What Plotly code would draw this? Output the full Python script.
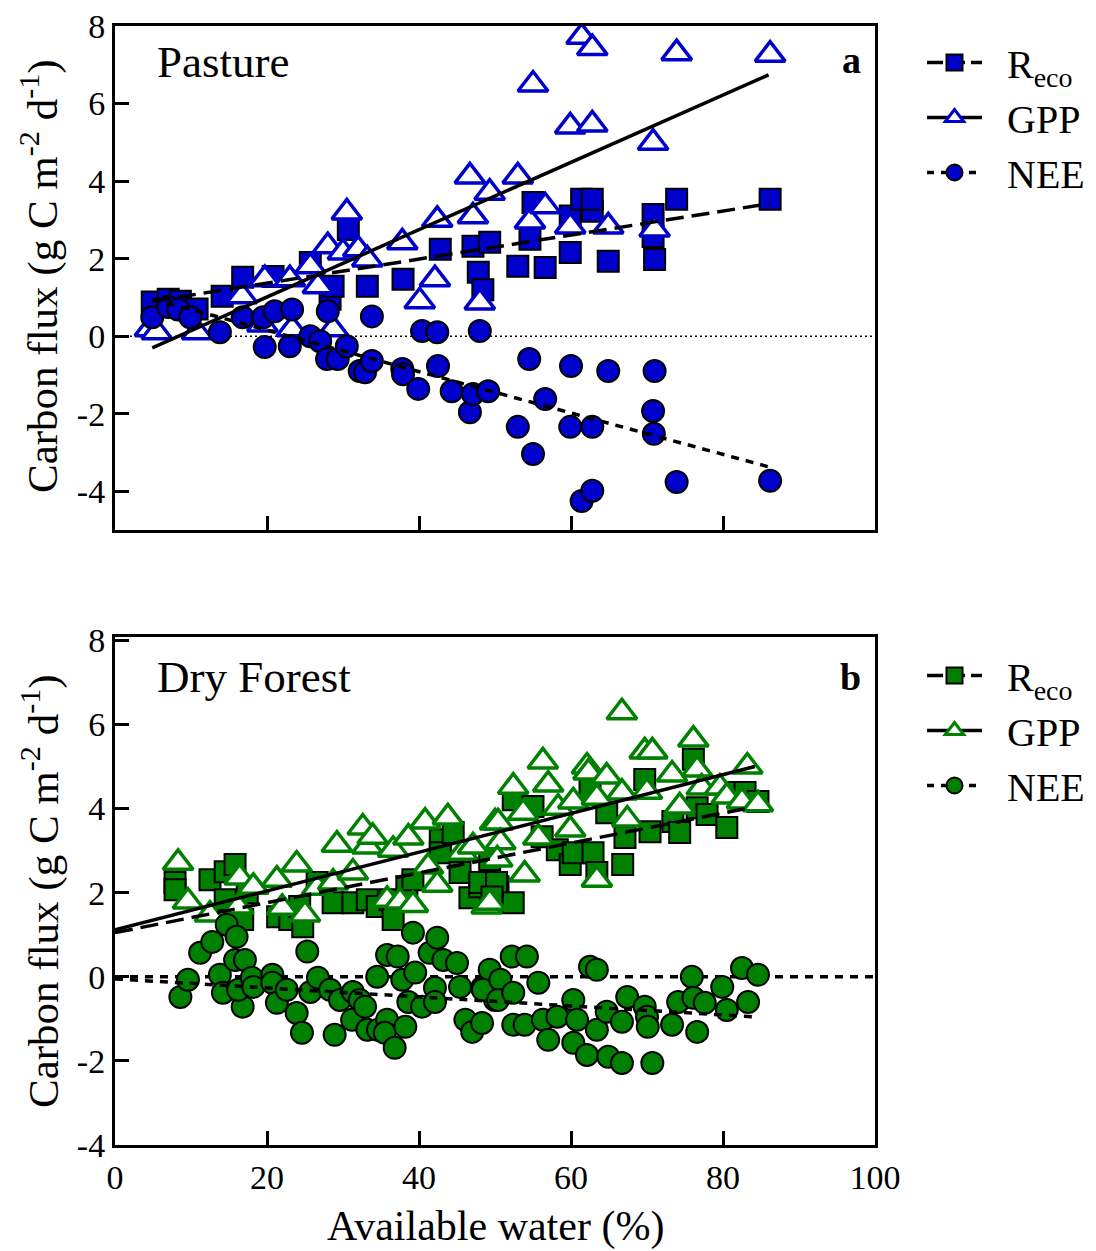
import plotly.graph_objects as go

# ---------------- Pasture (panel a) ----------------
pasture_reco_x = [4.9, 7.0, 8.6, 10.8, 14.1, 16.8, 20.8, 25.7, 28.3, 28.7, 30.7, 33.2, 37.9, 42.8,
                  47.1, 47.8, 48.4, 49.3, 53.0, 55.0, 56.6, 54.6, 59.9, 59.9, 61.4, 62.8, 62.8,
                  64.9, 70.8, 70.8, 71.0, 73.9, 86.2]
pasture_reco_y = [0.88, 0.95, 0.90, 0.70, 1.03, 1.52, 1.54, 1.90, 0.95, 1.29, 2.75, 1.29, 1.47, 2.24,
                  2.32, 1.65, 1.20, 2.42, 1.80, 3.45, 1.77, 2.50, 3.10, 2.16, 3.53, 3.22, 3.53,
                  1.93, 3.14, 2.57, 1.98, 3.53, 3.53]

pasture_gpp_x = [4.6, 5.5, 10.8, 16.7, 19.7, 19.4, 23.0, 23.3, 25.7, 26.7, 28.0, 28.7, 30.5, 30.0,
                 32.0, 33.2, 37.8, 40.1, 42.4, 42.1, 46.7, 47.1, 48.0, 49.3, 53.0, 55.0, 54.6,
                 56.6, 59.9, 59.9, 61.4, 62.8, 62.8, 64.9, 70.8, 71.0, 73.9, 86.2]
pasture_gpp_y = [0.18, 0.10, 0.10, 1.03, 1.47, 0.30, 1.47, 0.18, 1.80, 1.29, 2.32, 0.18, 3.19, 2.16,
                 2.24, 1.98, 2.42, 0.90, 3.00, 1.47, 4.12, 3.09, 0.87, 3.70, 4.12, 6.49, 2.96,
                 3.35, 5.41, 2.83, 7.72, 7.43, 5.46, 2.83, 4.99, 2.75, 7.30, 7.26]

pasture_nee_x = [4.9, 7.0, 8.3, 9.9, 13.8, 16.8, 19.5, 21.0, 23.3, 28.0, 33.8, 40.4, 42.4, 48.0,
                 19.7, 23.0, 25.7, 27.0, 27.9, 29.3, 30.5, 32.2, 32.9, 33.8, 37.8, 37.9, 39.9,
                 42.5, 44.3, 46.7, 47.1, 49.1, 54.5, 56.6, 53.0, 55.0, 60.0, 59.9, 62.8, 61.4,
                 62.8, 64.9, 71.0, 70.8, 70.9, 73.9, 86.2]
pasture_nee_y = [0.49, 0.75, 0.69, 0.49, 0.10, 0.49, 0.49, 0.64, 0.69, 0.64, 0.51, 0.13, 0.10, 0.13,
                 -0.28, -0.26, 0.00, -0.13, -0.59, -0.59, -0.26, -0.90, -0.93, -0.64, -0.85, -0.98, -1.36,
                 -0.77, -1.42, -1.96, -1.49, -1.42, -0.59, -1.62, -2.34, -3.04, -0.77, -2.34, -2.34, -4.25,
                 -3.99, -0.90, -0.90, -1.93, -2.52, -3.76, -3.73]

# regression lines (end points)
pasture_reco_fit_x = [4.9, 86.2]
pasture_reco_fit_y = [0.90, 3.42]
pasture_gpp_fit_x = [4.9, 86.0]
pasture_gpp_fit_y = [-0.30, 6.74]
pasture_nee_fit_x = [4.9, 86.0]
pasture_nee_fit_y = [0.96, -3.37]

# ---------------- Dry forest (panel b) ----------------
forest_reco_x = [7.9, 7.9, 12.5, 14.5, 15.8, 17.4, 16.8, 14.5, 21.4, 23.0, 24.7, 24.3, 26.6, 28.7,
                 31.3, 33.2, 34.5, 36.2, 36.6, 38.4, 39.2, 42.8, 42.8, 44.5, 45.4, 46.7, 48.0,
                 49.3, 50.4, 48.0, 50.2, 52.4, 52.4, 55.0, 56.2, 58.2, 59.9, 60.3, 62.9, 63.4,
                 64.7, 62.5, 66.8, 67.1, 69.7, 70.4, 73.4, 74.3, 76.1, 76.6, 77.9, 80.5, 81.3,
                 82.9, 84.6, 49.6]
forest_reco_y = [2.24, 2.07, 2.31, 2.50, 2.67, 2.00, 1.36, 1.83, 1.43, 1.36, 1.19, 1.67, 2.24, 1.76,
                 1.76, 1.83, 1.67, 1.83, 1.36, 2.14, 2.31, 3.26, 2.95, 3.43, 2.48, 1.88, 2.14,
                 2.79, 2.14, 2.24, 2.24, 1.76, 4.21, 4.05, 3.33, 3.02, 2.67, 2.95, 2.95, 2.48,
                 3.90, 4.45, 2.67, 3.31, 4.69, 3.45, 3.69, 3.43, 5.17, 4.02, 3.86, 3.55, 4.38,
                 4.38, 4.17, 1.90]

forest_gpp_x = [8.3, 9.6, 12.5, 16.4, 16.2, 18.2, 21.3, 22.0, 23.9, 25.0, 26.6, 28.7, 29.2, 31.3,
                32.6, 33.2, 33.9, 35.8, 36.6, 37.5, 38.6, 39.2, 40.8, 41.2, 42.4, 43.8, 45.7,
                47.1, 48.9, 50.0, 49.3, 50.4, 50.7, 50.3, 52.4, 53.7, 53.9, 55.7, 56.3, 57.0,
                58.3, 59.9, 60.3, 62.1, 62.3, 63.4, 63.4, 64.7, 66.7, 66.7, 67.4, 69.7, 70.7,
                70.0, 73.3, 74.3, 76.1, 76.6, 77.2, 79.6, 80.5, 82.5, 83.2, 84.6]
forest_gpp_y = [2.71, 1.79, 1.48, 2.36, 1.67, 2.14, 2.31, 1.64, 2.67, 1.48, 2.12, 2.24, 3.14, 2.48,
                3.55, 3.10, 3.33, 1.83, 3.02, 1.79, 3.31, 1.71, 3.69, 2.62, 2.19, 3.79, 2.95,
                3.10, 1.67, 3.67, 1.76, 3.67, 3.20, 2.79, 4.52, 3.90, 2.43, 3.31, 5.12, 4.57,
                4.02, 3.50, 4.17, 5.00, 4.86, 4.26, 2.31, 4.76, 6.29, 4.38, 3.74, 5.36, 5.36,
                4.40, 4.81, 4.05, 5.64, 4.93, 4.50, 4.50, 4.29, 4.17, 5.00, 4.10]

forest_nee_x = [8.6, 9.6, 11.2, 12.8, 13.8, 14.2, 14.7, 15.8, 16.0, 17.1, 16.8, 16.2, 18.0, 18.2,
                20.7, 20.7, 21.3, 22.6, 23.9, 24.6, 25.3, 25.7, 26.7, 28.3, 28.9, 29.6, 31.2,
                31.3, 32.2, 32.9, 33.2, 34.5, 34.6, 35.8, 35.5, 35.8, 36.8, 37.2, 37.8, 38.2,
                38.6, 39.2, 39.5, 40.4, 41.4, 42.1, 42.4, 43.2, 42.1, 45.0, 45.4, 46.1, 47.0,
                48.3, 48.3, 49.3, 50.0, 48.4, 50.7, 50.4, 52.2, 54.2, 52.4, 52.4, 53.9, 55.7,
                56.3, 57.0, 58.2, 60.3, 60.8, 60.3, 62.1, 62.5, 63.4, 63.4, 64.7, 64.9, 66.7,
                66.7, 67.4, 69.7, 70.0, 70.1, 70.7, 73.3, 74.1, 75.9, 76.1, 77.6, 76.6, 79.9,
                80.5, 82.5, 83.3, 84.6]
forest_nee_y = [-0.48, -0.07, 0.57, 0.83, 0.05, -0.38, 1.24, 0.40, 0.95, 0.40, -0.71, -0.31, -0.02, -0.24,
                0.05, -0.14, -0.62, -0.31, -0.86, -1.33, 0.60, -0.36, -0.02, -0.31, -1.38, -0.55, -1.02,
                -0.36, -0.55, -0.71, -1.26, 0.00, -1.26, -1.02, -1.33, 0.52, -1.69, 0.48, -0.07, -1.19,
                -0.60, 1.05, 0.10, -0.71, 0.57, -0.26, 0.93, 0.40, -0.60, 0.33, -0.24, -1.02, -1.31,
                -1.10, -0.26, 0.17, -0.55, -0.31, -0.07, -0.55, 0.48, 0.48, -0.38, -1.14, -1.14, -0.14,
                -1.02, -1.50, -0.95, -0.55, -1.02, -1.57, -1.86, 0.24, 0.17, -1.26, -0.83, -1.90, -1.07,
                -2.05, -0.48, -0.71, -0.95, -1.19, -2.05, -1.14, -0.60, 0.00, -0.50, -0.62, -1.31, -0.24,
                -0.79, 0.21, -0.60, 0.05]

forest_reco_fit_x = [0.0, 83.6]
forest_reco_fit_y = [1.05, 4.02]
forest_gpp_fit_x = [0.0, 84.2]
forest_gpp_fit_y = [1.12, 5.00]
forest_nee_fit_x = [0.0, 84.0]
forest_nee_fit_y = [-0.05, -0.95]

zero_x = [0, 100]
zero_y = [0, 0]

y_ticks = [-4, -2, 0, 2, 4, 6, 8]
y_ticktext = ["-4", "-2", "0", "2", "4", "6", "8"]
x_ticks = [0, 20, 40, 60, 80, 100]
x_ticktext = ["0", "20", "40", "60", "80", "100"]

# ---------------- styling ----------------
BLUE = "#0000CC"
GREEN = "#008000"
SERIF = "Liberation Serif"
W, H = 1096, 1251

DASH_RECO = "18px,8px"
DASH_NEE = "8px,7px"
GAP = "\u00a0\u00a0"

fig = go.Figure()


def add_panel(xa, ya, legend, color, reco, gpp, nee, fits, zero_style):
    # zero reference line
    fig.add_trace(go.Scatter(x=zero_x, y=zero_y, mode="lines", xaxis=xa, yaxis=ya,
                             line=dict(color="black", **zero_style), showlegend=False,
                             hoverinfo="skip"))
    fig.add_trace(go.Scatter(x=reco[0], y=reco[1], mode="markers", xaxis=xa, yaxis=ya,
                             marker=dict(symbol="square", size=21, color=color,
                                         line=dict(color="black", width=2)),
                             showlegend=False, name="Reco"))
    fig.add_trace(go.Scatter(x=gpp[0], y=gpp[1], mode="markers", xaxis=xa, yaxis=ya,
                             marker=dict(symbol="triangle-up", size=26, color="white",
                                         line=dict(color=color, width=3.5)),
                             showlegend=False, name="GPP"))
    fig.add_trace(go.Scatter(x=nee[0], y=nee[1], mode="markers", xaxis=xa, yaxis=ya,
                             marker=dict(symbol="circle", size=22, color=color,
                                         line=dict(color="black", width=2)),
                             showlegend=False, name="NEE"))
    (rfx, rfy), (gfx, gfy), (nfx, nfy) = fits
    fig.add_trace(go.Scatter(x=rfx, y=rfy, mode="lines", xaxis=xa, yaxis=ya,
                             line=dict(color="black", width=3.5, dash=DASH_RECO),
                             showlegend=False))
    fig.add_trace(go.Scatter(x=gfx, y=gfy, mode="lines", xaxis=xa, yaxis=ya,
                             line=dict(color="black", width=3.5), showlegend=False))
    fig.add_trace(go.Scatter(x=nfx, y=nfy, mode="lines", xaxis=xa, yaxis=ya,
                             line=dict(color="black", width=3.5, dash=DASH_NEE),
                             showlegend=False))
    # legend entries
    fig.add_trace(go.Scatter(x=[None], y=[None], mode="lines+markers", xaxis=xa, yaxis=ya,
                             name=GAP + "R<sub>eco</sub>", legend=legend,
                             line=dict(color="black", width=3.5, dash="16px,6px"),
                             marker=dict(symbol="square", size=16, color=color,
                                         line=dict(color="black", width=2))))
    fig.add_trace(go.Scatter(x=[None], y=[None], mode="lines+markers", xaxis=xa, yaxis=ya,
                             name=GAP + "GPP", legend=legend,
                             line=dict(color="black", width=3.5),
                             marker=dict(symbol="triangle-up", size=16, color="white",
                                         line=dict(color=color, width=3))))
    fig.add_trace(go.Scatter(x=[None], y=[None], mode="lines+markers", xaxis=xa, yaxis=ya,
                             name=GAP + "NEE", legend=legend,
                             line=dict(color="black", width=3.5, dash="7px,7px"),
                             marker=dict(symbol="circle", size=16, color=color,
                                         line=dict(color="black", width=2))))


add_panel("x", "y", "legend", BLUE,
          (pasture_reco_x, pasture_reco_y), (pasture_gpp_x, pasture_gpp_y),
          (pasture_nee_x, pasture_nee_y),
          ((pasture_reco_fit_x, pasture_reco_fit_y), (pasture_gpp_fit_x, pasture_gpp_fit_y),
           (pasture_nee_fit_x, pasture_nee_fit_y)),
          dict(width=1.5, dash="2px,3px"))
add_panel("x2", "y2", "legend2", GREEN,
          (forest_reco_x, forest_reco_y), (forest_gpp_x, forest_gpp_y),
          (forest_nee_x, forest_nee_y),
          ((forest_reco_fit_x, forest_reco_fit_y), (forest_gpp_fit_x, forest_gpp_fit_y),
           (forest_nee_fit_x, forest_nee_fit_y)),
          dict(width=3.5, dash=DASH_NEE))

xdom = [115 / W, 875 / W]
axis_common = dict(showline=True, linecolor="black", linewidth=3, mirror=True,
                   ticks="inside", ticklen=14, tickwidth=3, tickcolor="black",
                   showgrid=False, zeroline=False, automargin=False,
                   tickfont=dict(family=SERIF, size=34, color="black"))

fig.update_layout(
    width=W, height=H,
    margin=dict(l=0, r=0, t=0, b=0, autoexpand=False),
    paper_bgcolor="white", plot_bgcolor="white",
    font=dict(family=SERIF, color="black"),
    xaxis=dict(domain=xdom, range=[0, 100], tickvals=x_ticks, showticklabels=False,
               anchor="y", **axis_common),
    yaxis=dict(domain=[1 - 530 / H, 1 - 26 / H], range=[-5, 8], tickvals=y_ticks,
               ticktext=y_ticktext, anchor="x", **axis_common),
    xaxis2=dict(domain=xdom, range=[0, 100], tickvals=x_ticks, ticktext=x_ticktext,
                anchor="y2", **axis_common),
    yaxis2=dict(domain=[1 - 1145 / H, 1 - 637 / H], range=[-4, 8.08],
                tickvals=y_ticks, ticktext=y_ticktext, anchor="x2", **axis_common),
    legend=dict(x=922 / W, y=1 - 30 / H, xanchor="left", yanchor="top",
                font=dict(family=SERIF, size=40), itemwidth=55, bgcolor="rgba(0,0,0,0)",
                tracegroupgap=0),
    legend2=dict(x=922 / W, y=1 - 643 / H, xanchor="left", yanchor="top",
                 font=dict(family=SERIF, size=40), itemwidth=55, bgcolor="rgba(0,0,0,0)",
                 tracegroupgap=0),
    showlegend=True,
)

annotations = [
    dict(text="Pasture", x=155 / W, y=1 - 62 / H, xanchor="left", yanchor="middle",
         font=dict(size=45)),
    dict(text="<b>a</b>", x=863 / W, y=1 - 60 / H, xanchor="right", yanchor="middle",
         font=dict(size=38)),
    dict(text="Dry Forest", x=155 / W, y=1 - 677 / H, xanchor="left", yanchor="middle",
         font=dict(size=45)),
    dict(text="<b>b</b>", x=863 / W, y=1 - 677 / H, xanchor="right", yanchor="middle",
         font=dict(size=38)),
    dict(text="Carbon flux (g C m<sup>-2</sup> d<sup>-1</sup>)", x=40 / W, y=1 - 276 / H,
         textangle=-90, xanchor="center", yanchor="middle", font=dict(size=43)),
    dict(text="Carbon flux (g C m<sup>-2</sup> d<sup>-1</sup>)", x=40 / W, y=1 - 891 / H,
         textangle=-90, xanchor="center", yanchor="middle", font=dict(size=43)),
    dict(text="Available water (%)", x=495 / W, y=1 - 1226 / H, xanchor="center",
         yanchor="middle", font=dict(size=42)),
]
for a in annotations:
    a.update(xref="paper", yref="paper", showarrow=False)
    a["font"].update(family=SERIF, color="black")
fig.update_layout(annotations=annotations)

fig.write_html("out.html")
